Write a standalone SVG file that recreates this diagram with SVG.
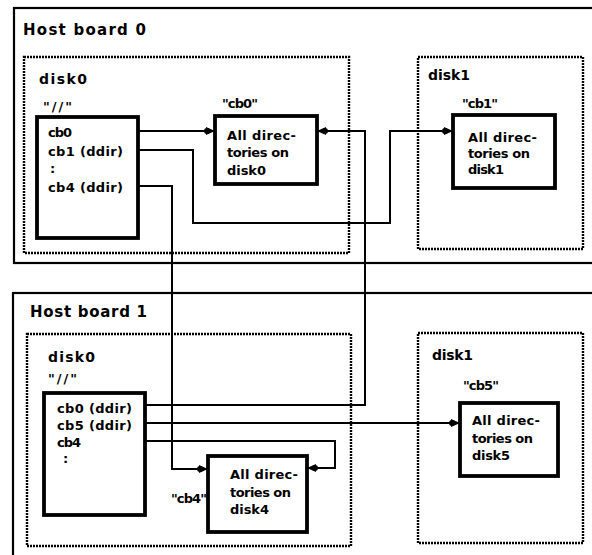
<svg xmlns="http://www.w3.org/2000/svg" width="592" height="555" viewBox="0 0 592 555">
<style>
.board{fill:none;stroke:#000;stroke-width:2.2}
.disk{fill:none;stroke:#000;stroke-width:2.4;stroke-dasharray:2 1}
.box{fill:#fff;stroke:#000;stroke-width:3.8}
.con{fill:none;stroke:#000;stroke-width:2;marker-end:url(#ah)}
text{font-family:"DejaVu Sans","Liberation Sans",sans-serif;font-weight:bold;fill:#000}
.h{font-size:15px}
.d{font-size:14px}
.t{font-size:13px}
</style>
<defs>
<marker id="ah" viewBox="0 0 11 10" refX="11" refY="5" markerWidth="11" markerHeight="10" markerUnits="userSpaceOnUse" orient="auto">
<path d="M2,1 L11,5 L2,9 Z" fill="#000"/>
<circle cx="3" cy="5" r="3" fill="#000"/>
</marker>
</defs>
<rect width="592" height="555" fill="#fff"/>

<g id="hostboard0">
<rect class="board" x="14" y="8" width="600" height="255"/>
<text class="h" x="23" y="35" textLength="123" lengthAdjust="spacing">Host board 0</text>
</g>
<g id="hostboard1">
<rect class="board" x="13" y="293" width="600" height="290"/>
<text class="h" x="30" y="317" textLength="117" lengthAdjust="spacing">Host board 1</text>
</g>

<g id="hb0-disk0">
<rect class="disk" x="24" y="57" width="325" height="196"/>
<text class="d" x="39" y="84" textLength="48" lengthAdjust="spacing">disk0</text>
</g>
<g id="hb0-disk1">
<rect class="disk" x="418" y="57" width="165" height="192"/>
<text class="d" x="428" y="80" textLength="42" lengthAdjust="spacing">disk1</text>
</g>
<g id="hb1-disk0">
<rect class="disk" x="27" y="334" width="324" height="212"/>
<text class="d" x="48" y="362" textLength="47" lengthAdjust="spacing">disk0</text>
</g>
<g id="hb1-disk1">
<rect class="disk" x="418" y="333" width="165" height="210"/>
<text class="d" x="432" y="360" textLength="41" lengthAdjust="spacing">disk1</text>
</g>

<g id="connectors">
<polyline class="con" points="138,131 215,131"/>
<polyline class="con" points="138,150 193,150 193,223 390,223 390,131 453,131"/>
<polyline class="con" points="138,186 172,186 172,469 208,469"/>
<polyline class="con" points="145,405 365,405 365,131 317,131"/>
<polyline class="con" points="145,423 460,423"/>
<polyline class="con" points="145,441 335,441 335,468 307,468"/>
</g>

<g id="root0">
<text class="t" x="43" y="111" textLength="29" lengthAdjust="spacing">"//"</text>
<rect class="box" x="37" y="117" width="101" height="121"/>
<text class="t" x="48" y="137" textLength="24" lengthAdjust="spacing">cb0</text>
<text class="t" x="48" y="156" textLength="75" lengthAdjust="spacing">cb1 (ddir)</text>
<text class="t" x="50" y="173">:</text>
<text class="t" x="48" y="192" textLength="75" lengthAdjust="spacing">cb4 (ddir)</text>
</g>

<g id="cb0">
<text class="t" x="222" y="108" textLength="36" lengthAdjust="spacing">"cb0"</text>
<rect class="box" x="215" y="116" width="102" height="68"/>
<text class="t" x="227" y="140" textLength="69" lengthAdjust="spacing">All direc-</text>
<text class="t" x="227" y="157" textLength="62" lengthAdjust="spacing">tories on</text>
<text class="t" x="227" y="175" textLength="39" lengthAdjust="spacing">disk0</text>
</g>

<g id="cb1">
<text class="t" x="462" y="108" textLength="36" lengthAdjust="spacing">"cb1"</text>
<rect class="box" x="453" y="115" width="102" height="73"/>
<text class="t" x="468" y="142" textLength="69" lengthAdjust="spacing">All direc-</text>
<text class="t" x="468" y="158" textLength="62" lengthAdjust="spacing">tories on</text>
<text class="t" x="468" y="174" textLength="36" lengthAdjust="spacing">disk1</text>
</g>

<g id="root1">
<text class="t" x="48" y="383" textLength="29" lengthAdjust="spacing">"//"</text>
<rect class="box" x="44" y="393" width="101" height="122"/>
<text class="t" x="57" y="413" textLength="75" lengthAdjust="spacing">cb0 (ddir)</text>
<text class="t" x="57" y="430" textLength="75" lengthAdjust="spacing">cb5 (ddir)</text>
<text class="t" x="57" y="447" textLength="24" lengthAdjust="spacing">cb4</text>
<text class="t" x="63" y="463">:</text>
</g>

<g id="cb4">
<text class="t" x="171" y="503" textLength="36" lengthAdjust="spacing">"cb4"</text>
<rect class="box" x="208" y="456" width="99" height="76"/>
<text class="t" x="230" y="479" textLength="68" lengthAdjust="spacing">All direc-</text>
<text class="t" x="230" y="497" textLength="61" lengthAdjust="spacing">tories on</text>
<text class="t" x="230" y="514" textLength="39" lengthAdjust="spacing">disk4</text>
</g>

<g id="cb5">
<text class="t" x="463" y="390" textLength="36" lengthAdjust="spacing">"cb5"</text>
<rect class="box" x="460" y="403" width="98" height="73"/>
<text class="t" x="472" y="425" textLength="68" lengthAdjust="spacing">All direc-</text>
<text class="t" x="472" y="443" textLength="61" lengthAdjust="spacing">tories on</text>
<text class="t" x="472" y="460" textLength="38" lengthAdjust="spacing">disk5</text>
</g>
</svg>
